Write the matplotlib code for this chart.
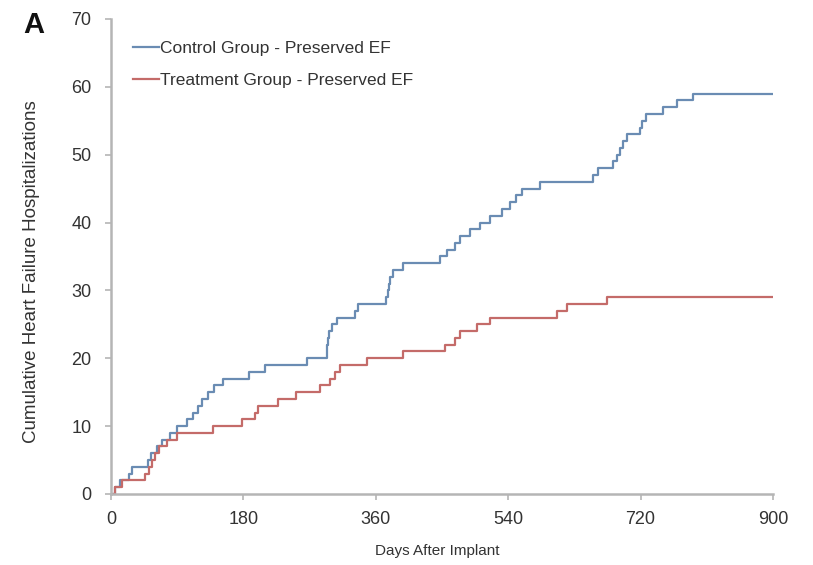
import matplotlib
matplotlib.use('Agg')
import matplotlib.pyplot as plt
import numpy as np

plt.rcParams['font.family'] = ['Liberation Sans', 'DejaVu Sans']

# day at which each cumulative count is reached (count = index)
control_days = [0, 5, 12, 24, 28, 50, 55, 62, 70, 80, 90, 103, 112, 118, 124, 132, 140, 152,
                187, 210, 266, 293, 294, 295, 296, 300, 307, 332, 336, 374, 376, 378, 380,
                384, 397, 447, 457, 468, 474, 488, 502, 515, 531, 542, 550, 559, 583, 655,
                662, 683, 688, 692, 696, 701, 719, 722, 727, 751, 769, 791]
treatment_days = [0, 5, 15, 46, 52, 56, 60, 65, 76, 90, 139, 178, 196, 200, 227, 252, 284,
                  298, 305, 311, 348, 397, 454, 468, 474, 497, 515, 606, 620, 674]
end_day = 900

x_ticks = [0, 180, 360, 540, 720, 900]
y_ticks = [0, 10, 20, 30, 40, 50, 60, 70]

blue = '#6a8cb3'
red = '#c46b69'

fig = plt.figure(figsize=(8.13, 5.65), dpi=100)
ax = fig.add_axes([0.1365, 0.1257, 0.8143, 0.8407])

cx = np.append(control_days, end_day)
cy = np.append(np.arange(len(control_days)), len(control_days) - 1)
tx = np.append(treatment_days, end_day)
ty = np.append(np.arange(len(treatment_days)), len(treatment_days) - 1)

ax.step(cx, cy, where='post', color=blue, lw=1.6, label='Control Group - Preserved EF')
ax.step(tx, ty, where='post', color=red, lw=1.6, label='Treatment Group - Preserved EF')

ax.set_xlim(0, 900)
ax.set_ylim(0, 70)
ax.set_xticks(x_ticks)
ax.set_yticks(y_ticks)

for s in ['top', 'right']:
    ax.spines[s].set_visible(False)
for s in ['left', 'bottom']:
    ax.spines[s].set_color('#b5b5b5')
    ax.spines[s].set_linewidth(1.8)
ax.tick_params(colors='#b5b5b5', length=4, width=1.2, labelcolor='#333333', labelsize=13)
ax.tick_params(axis='x', pad=8)
ax.tick_params(axis='y', pad=10)

ax.set_xlabel('Days After Implant', fontsize=11, color='#333333')
ax.xaxis.set_label_coords(0.493, -0.105)
ax.set_ylabel('Cumulative Heart Failure Hospitalizations', fontsize=13.5, color='#333333')
ax.yaxis.set_label_coords(-0.107, 0.469)

leg = ax.legend(loc='upper left', bbox_to_anchor=(0.01, 0.987), frameon=False, fontsize=12.5,
                handlelength=1.5, handletextpad=0.05, labelspacing=0.95)
for t in leg.get_texts():
    t.set_color('#333333')

fig.text(0.029, 0.942, 'A', fontsize=21, fontweight='bold', color='#111111')

fig.savefig('out.png', dpi=100)
